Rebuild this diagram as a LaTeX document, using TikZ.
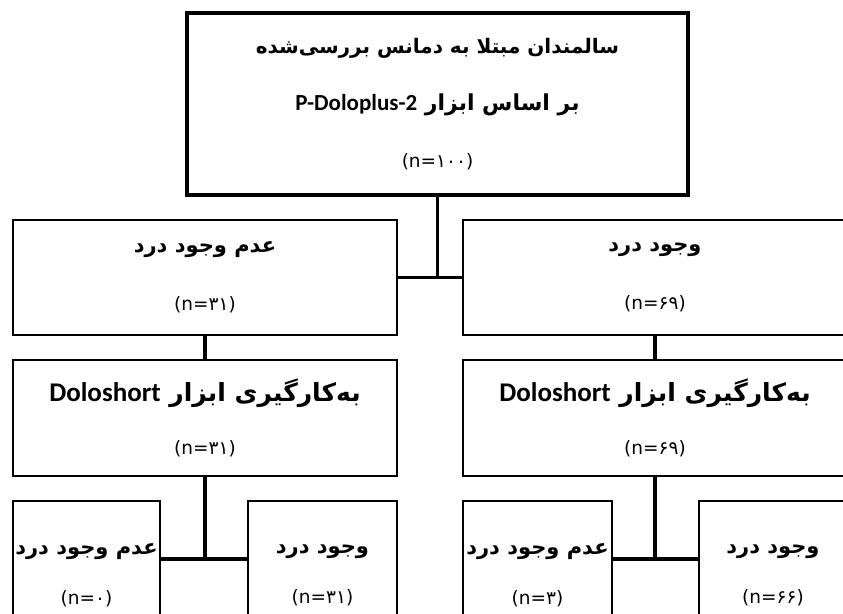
\documentclass[tikz,border=0pt]{standalone}
\usepackage{fontspec}
\TeXXeTstate=1
\newfontfamily\arabicfont[Script=Arabic]{DejaVu Sans}
\newfontfamily\latfont{Carlito}
\newcommand{\pfa}[2][20]{{\arabicfont\bfseries\fontsize{#1}{#1}\selectfont\beginR #2\endR}}
\newcommand{\lat}[2][22]{{\latfont\bfseries\fontsize{#1}{#1}\selectfont #2}}
\newcommand{\nfa}[1]{{\arabicfont\fontsize{18.5}{18.5}\selectfont #1}}
\tikzset{
  box/.style={draw=black, line width=2.6pt, rectangle, inner sep=0pt, align=center, fill=white},
  topbox/.style={box, line width=3.2pt, minimum width=501pt, minimum height=182pt, font=\fontsize{17}{57}\selectfont},
  lvtwo/.style={box, minimum width=384pt, minimum height=115pt, font=\fontsize{17}{58}\selectfont},
  lvthree/.style={box, minimum width=384pt, minimum height=116pt, font=\fontsize{17}{53}\selectfont},
  lvfour/.style={box, minimum height=148pt, font=\fontsize{17}{50}\selectfont},
  conn/.style={draw=black, line width=3.6pt},
}
\begin{document}
\begin{tikzpicture}[x=1pt,y=1pt]
\useasboundingbox (0,0) rectangle (843,613);
\clip (0,0) rectangle (843,613);
\fill[white] (0,0) rectangle (843,613);
% level 1
\node[topbox] (top) at (437.5,509) {\pfa{سالمندان مبتلا به دمانس بررسی‌شده}\\\pfa[22]{بر اساس ابزار \beginL\lat[23]{P-Doloplus-2}\endL}\\\nfa{(n=۱۰۰)}};
% level 2
\node[lvtwo] (l2l) at (205,335.5) {\pfa[21]{عدم وجود درد}\\\nfa{(n=۳۱)}};
\node[lvtwo] (l2r) at (655,335.5) {\pfa[21]{وجود درد}\\\nfa{(n=۶۹)}};
% level 3
\node[lvthree] (l3l) at (205,195) {\pfa[25]{به‌کارگیری ابزار \beginL\lat[27]{Doloshort}\endL}\\\nfa{(n=۳۱)}};
\node[lvthree] (l3r) at (655,195) {\pfa[25]{به‌کارگیری ابزار \beginL\lat[27]{Doloshort}\endL}\\\nfa{(n=۶۹)}};
% level 4
\node[lvfour, minimum width=147pt] (l4ll) at (86.5,38) {\pfa[21]{عدم وجود درد}\\\nfa{(n=۰)}};
\node[lvfour, minimum width=149pt] (l4lr) at (322.5,38) {\pfa[21]{وجود درد}\\\nfa{(n=۳۱)}};
\node[lvfour, minimum width=149pt] (l4rl) at (537.5,38) {\pfa[21]{عدم وجود درد}\\\nfa{(n=۳)}};
\node[lvfour, minimum width=148pt] (l4rr) at (773,38) {\pfa[21]{وجود درد}\\\nfa{(n=۶۶)}};
% junction coordinates
\coordinate (jl) at (204,54);
\coordinate (jr) at (656,54);
% connectors
\draw[conn] (top.south) -- (top.south |- l2l.east);
\draw[conn] (l2l.east) -- (l2r.west);
\draw[conn] (l2l.south) -- (l3l.north);
\draw[conn] (l2r.south) -- (l3r.north);
\draw[conn] (l3l.south) -- (l3l.south |- jl);
\draw[conn] (l4ll.east |- jl) -- (l4lr.west |- jl);
\draw[conn] (l3r.south) -- (l3r.south |- jr);
\draw[conn] (l4rl.east |- jr) -- (l4rr.west |- jr);
\end{tikzpicture}
\end{document}
